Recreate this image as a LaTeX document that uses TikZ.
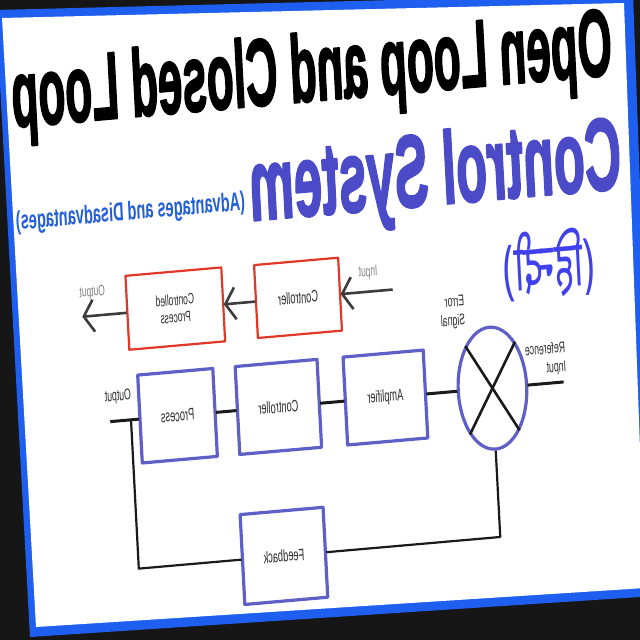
\documentclass[tikz,border=0pt]{standalone}
\usepackage{fontspec}
\setmainfont{Liberation Sans}
\newfontfamily\hindifont[Script=Devanagari]{Noto Sans}
\newfontfamily\headfont[FakeBold=2.5]{Liberation Sans Bold}
\usepackage{graphicx}
\usetikzlibrary{arrows.meta}

\definecolor{bgblack}{RGB}{22,22,22}
\definecolor{frameblue}{RGB}{30,95,240}
\definecolor{titleblue}{RGB}{75,75,200}
\definecolor{subblue}{RGB}{35,95,215}
\definecolor{hindiblue}{RGB}{65,65,235}
\definecolor{boxred}{RGB}{225,55,40}
\definecolor{boxblue}{RGB}{95,95,200}
\definecolor{wireblack}{RGB}{26,26,26}
\definecolor{arrowgray}{RGB}{60,60,60}
\definecolor{txtgray}{RGB}{45,45,45}
\definecolor{lblgray}{RGB}{130,130,130}

\begin{document}
\begin{tikzpicture}[x=1pt, y=-1pt, line join=round,
  bluebox/.style={draw=boxblue, line width=3.2pt, minimum height=88pt, text=txtgray, font=\fontsize{16.5}{19}\selectfont},
  redbox/.style={draw=boxred, line width=2.2pt, minimum height=73pt, text=txtgray, align=center, font=\fontsize{16.5}{17}\selectfont},
  wire/.style={draw=wireblack, line width=3pt},
  flow/.style={draw=arrowgray, line width=2.6pt, -{Straight Barb[length=10pt, width=32pt]}},
  lbl/.style={text=txtgray, inner sep=0pt, align=left, font=\fontsize{15.5}{19}\selectfont},
  faint/.style={text=lblgray, inner sep=0pt, font=\fontsize{15}{18}\selectfont}]
  \useasboundingbox (0,0) rectangle (640,640);
  % page
  \fill[bgblack] (0,0) rectangle (640,640);
  \fill[frameblue] (-4,10) -- (633,-6) -- (655,596) -- (30,637) -- cycle;
  \fill[white] (2,18) -- (624,3) -- (645,588) -- (36,627) -- cycle;

  \begin{scope}[shift={(320,320)}, cm={0.9962,0.0872,-0.0523,0.9986,(0,0)}, xscale=-0.5625, transform shape]
    % heading
    \node[anchor=base west, inner sep=0pt, font=\headfont\fontsize{95}{95}\selectfont] (title) at (-544,-219) {\scalebox{0.825}[1]{Open Loop and Closed Loop}};
    \node[anchor=base west, inner sep=0pt, text=titleblue, font=\headfont\fontsize{102}{102}\selectfont] (subject) at (-550,-105) {\scalebox{0.88}[1]{Control System}};
    \node[anchor=west, inner sep=0pt, text=subblue, font=\bfseries\fontsize{26}{26}\selectfont] (pros) at (122,-123) {(Advantages and Disadvantages)};
    \node[text=hindiblue, inner sep=0pt, font=\hindifont\bfseries\fontsize{65}{65}\selectfont] (lang) at (-412,-35) {(हिन्दी)};

    % open loop
    \node[redbox, minimum width=150pt] (octrl) at (37,-24) {Controller};
    \node[redbox, minimum width=171pt, minimum height=74pt, font=\fontsize{15}{17}\selectfont] (oproc) at (256,-24) {Controlled\\Process};
    \coordinate (oin) at (-132,-24);
    \coordinate (oout) at (422,-24);
    \draw[flow] (oin) -- (octrl);
    \draw[flow] (octrl) -- (oproc);
    \draw[flow] (oproc) -- (oout);
    \node[faint] (oinlbl) at (-90,-43) {Input};
    \node[faint] (ooutlbl) at (402,-47) {Output};

    % closed loop
    \node[draw=boxblue, line width=3.2pt, circle, minimum size=122pt, inner sep=0pt] (sum) at (-300,83) {};
    \draw[wire, line width=2.6pt] (sum.north west) -- (sum.south east);
    \draw[wire, line width=2.6pt] (sum.north east) -- (sum.south west);
    \node[bluebox, minimum width=143pt] (amp) at (-109,83) {Amplifier};
    \node[bluebox, minimum width=146pt] (ctrl) at (82,83) {Controller};
    \node[bluebox, minimum width=134pt] (proc) at (262,83) {Process};
    \node[bluebox, minimum width=148pt, minimum height=90pt] (fb) at (86,232) {Feedback};
    \coordinate (ref) at (-427,83);
    \coordinate (out) at (382,83);
    \coordinate (tap) at (345,83);
    \coordinate (tapdown) at (345,232);
    \coordinate (back) at (-300,232);
    \draw[wire] (ref) -- (sum);
    \draw[wire] (sum) -- (amp);
    \draw[wire] (amp) -- (ctrl);
    \draw[wire] (ctrl) -- (proc);
    \draw[wire] (proc) -- (out);
    \draw[wire, line width=2.2pt] (tap) -- (tapdown) -- (fb);
    \draw[wire, line width=2.2pt] (fb) -- (back) -- (sum);
    \node[lbl, anchor=west] (reflbl) at (-433,59) {Reference\\Input};
    \node[lbl, anchor=west] (errlbl) at (-258,4) {Error\\Signal};
    \node[lbl] (outlbl) at (366,59) {Output};
  \end{scope}
\end{tikzpicture}
\end{document}
